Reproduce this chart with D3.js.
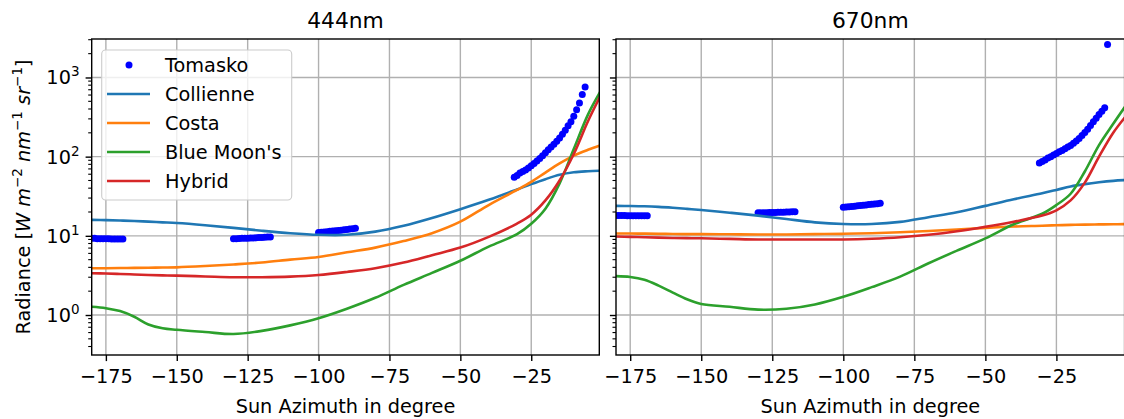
<!DOCTYPE html>
<html><head><meta charset="utf-8">
<script src="https://cdn.jsdelivr.net/npm/d3@7"></script>
<style>body{margin:0;background:#fff} svg{display:block} text{font-family:"DejaVu Sans",sans-serif;fill:#000}</style>
</head><body><svg id="c" width="1124" height="419"></svg>
<script>
// ---------- data ----------
const azimuth = [-180,-175,-170,-165,-160,-155,-150,-140,-130,-120,-110,-100,-90,-80,-70,-60,-50,-40,-30,-25,-20,-15,-10,-5,-1];

const collienne444 = [15.9,15.8,15.6,15.4,15.1,14.8,14.5,13.6,12.6,11.6,10.8,10.3,10.3,11.3,13.4,16.8,21.7,28.5,38.5,45,52,59,63.5,65.5,66.5];
const costa444     = [3.9,3.9,3.92,3.94,3.96,3.98,4.0,4.15,4.35,4.6,5.0,5.4,6.2,7.1,8.6,10.8,15.1,24.5,38,48,63,82,103,122,137];
const blueMoon444  = [1.27,1.22,1.12,0.95,0.76,0.68,0.65,0.61,0.575,0.63,0.74,0.91,1.2,1.65,2.4,3.4,4.85,7.3,10.5,14.2,22,46,125,340,630];
const hybrid444    = [3.37,3.34,3.3,3.25,3.2,3.17,3.14,3.07,3.0,3.0,3.05,3.2,3.5,3.9,4.6,5.7,7.1,9.7,14.3,18.5,28,50,108,280,550];

const collienne670 = [23.9,23.8,23.6,23.2,22.6,21.9,21.2,19.6,18.0,16.3,14.8,14.1,14.1,15.0,17.2,19.8,23.9,29,34.5,38,42,45,47.5,49.5,50.5];
const costa670     = [10.7,10.7,10.65,10.6,10.55,10.5,10.5,10.45,10.4,10.4,10.5,10.6,10.8,11.1,11.5,12.0,12.6,13.1,13.4,13.6,13.75,13.85,13.95,14.0,14.05];
const blueMoon670  = [3.1,3.02,2.78,2.35,1.92,1.58,1.38,1.27,1.17,1.2,1.36,1.7,2.25,3.05,4.5,6.5,9.3,14.0,19,24.5,34,65,140,260,420];
const hybrid670    = [9.8,9.7,9.6,9.5,9.4,9.35,9.3,9.15,9.0,9.0,9.0,9.0,9.2,9.6,10.3,11.4,13.0,15.1,18,21,28,47,100,200,310];

const tomaskoAz444 = [-180,-179,-178,-177,-176,-175,-174,-173,-172,-171,-170,-169,
  -130,-129,-128,-127,-126,-125,-124,-123,-122,-121,-120,-119,-118,-117,
  -100,-99,-98,-97,-96,-95,-94,-93,-92,-91,-90,-89,-88,-87,
  -31,-30,-29,-28,-27,-26,-25,-24,-23,-22,-21,-20,-19,-18,-17,-16,-15,-14,-13,-12,-11,-10,-9,-8,-7,-6];
const tomasko444 = [9.3,9.3,9.2,9.2,9.2,9.2,9.2,9.1,9.1,9.1,9.1,9.1,
  9.2,9.2,9.25,9.3,9.3,9.35,9.4,9.4,9.45,9.5,9.55,9.6,9.65,9.7,
  11.0,11.1,11.2,11.3,11.4,11.5,11.6,11.7,11.8,11.9,12.0,12.2,12.3,12.5,
  55,58,62,65,68,72,77,82,88,95,103,112,122,132,143,156,172,192,215,245,275,325,390,475,610,760];

const tomaskoAz670 = [-180,-179,-178,-177,-176,-175,-174,-173,-172,-171,-170,-169,
  -130,-129,-128,-127,-126,-125,-124,-123,-122,-121,-120,-119,-118,-117,
  -100,-99,-98,-97,-96,-95,-94,-93,-92,-91,-90,-89,-88,-87,
  -31,-30,-29,-28,-27,-26,-25,-24,-23,-22,-21,-20,-19,-18,-17,-16,-15,-14,-13,-12,-11,-10,-9,-8,-7];
const tomasko670 = [18.0,18.0,18.0,18.0,17.9,17.9,17.9,17.9,17.9,17.9,17.9,17.9,
  19.5,19.55,19.6,19.6,19.65,19.7,19.75,19.8,19.85,19.9,19.95,20.0,20.1,20.2,
  22.9,23.1,23.3,23.5,23.7,23.9,24.1,24.3,24.5,24.8,25.0,25.3,25.5,25.8,
  83,87,91,96,100,105,110,115,120,126,132,138,148,158,170,185,202,222,248,275,305,340,375,415,2600];

const xTicks = [-175,-150,-125,-100,-75,-50,-25];
const yTicks = [1,10,100,1000];
const yTickExp = ["0","1","2","3"];
const seriesNames = ["Tomasko","Collienne","Costa","Blue Moon's","Hybrid"];
const seriesColors = ["#0000ff","#1f77b4","#ff7f0e","#2ca02c","#d62728"];
const panelTitles = ["444nm","670nm"];
const xLabel = "Sun Azimuth in degree";

// ---------- layout ----------
const svg = d3.select("#c");
const TOP = 39, BOTTOM = 355;
const FS = 19.3, FSUP = 13.5, TFS = 21.8;
const y = d3.scaleLog().domain([0.3125, 3062]).range([BOTTOM, TOP]);

const panels = [
  {title: panelTitles[0], x0: 91.7, x1: 599.3, lines: [collienne444, costa444, blueMoon444, hybrid444], tAz: tomaskoAz444, tVal: tomasko444, labels: true},
  {title: panelTitles[1], x0: 616, x1: 1124.6, lines: [collienne670, costa670, blueMoon670, hybrid670], tAz: tomaskoAz670, tVal: tomasko670, labels: false}
];

panels.forEach((p, i) => {
  const x = d3.scaleLinear().domain([-180, -1]).range([p.x0, p.x1]);
  const g = svg.append("g");
  const clipId = "clip" + i;
  svg.append("defs").append("clipPath").attr("id", clipId)
    .append("rect").attr("x", p.x0).attr("y", TOP).attr("width", p.x1 - p.x0).attr("height", BOTTOM - TOP);

  // grid
  g.append("g").selectAll("line").data(xTicks).join("line")
    .attr("x1", d => x(d)).attr("x2", d => x(d)).attr("y1", TOP).attr("y2", BOTTOM)
    .attr("stroke", "#b0b0b0").attr("stroke-width", 1.4);
  g.append("g").selectAll("line").data(yTicks).join("line")
    .attr("x1", p.x0).attr("x2", p.x1).attr("y1", d => y(d)).attr("y2", d => y(d))
    .attr("stroke", "#b0b0b0").attr("stroke-width", 1.4);

  const plot = g.append("g").attr("clip-path", `url(#${clipId})`);
  // Tomasko dots
  plot.append("g").selectAll("circle").data(p.tAz.map((a, k) => [a, p.tVal[k]])).join("circle")
    .attr("cx", d => x(d[0])).attr("cy", d => y(d[1])).attr("r", 3.5).attr("fill", seriesColors[0]);
  // model lines
  const line = d3.line().x((d, k) => x(azimuth[k])).y(d => y(d)).curve(d3.curveCatmullRom.alpha(0.5));
  p.lines.forEach((vals, k) => {
    plot.append("path").datum(vals).attr("d", line).attr("fill", "none")
      .attr("stroke", seriesColors[k + 1]).attr("stroke-width", 2.6).attr("stroke-linecap", "square");
  });

  // x axis
  const xa = g.append("g").attr("transform", `translate(0,${BOTTOM})`)
    .call(d3.axisBottom(x).tickValues(xTicks).tickSize(6.1).tickPadding(8.5));
  xa.select(".domain").remove();
  xa.selectAll(".tick line").attr("stroke", "#000").attr("stroke-width", 1.4);
  xa.selectAll(".tick text").attr("font-size", FS).attr("font-family", "DejaVu Sans").attr("fill", "#000");

  // y axis (major + minor ticks)
  const ya = g.append("g").attr("transform", `translate(${p.x0},0)`)
    .call(d3.axisLeft(y).tickValues(yTicks).tickSize(6.1).tickFormat(() => ""));
  ya.select(".domain").remove();
  ya.selectAll(".tick line").attr("stroke", "#000").attr("stroke-width", 1.4);
  const minor = y.ticks().filter(v => !yTicks.some(t => Math.abs(t - v) < 1e-9));
  g.append("g").selectAll("line").data(minor).join("line")
    .attr("x1", p.x0 - 3.5).attr("x2", p.x0).attr("y1", d => y(d)).attr("y2", d => y(d))
    .attr("stroke", "#000").attr("stroke-width", 1.1);

  if (p.labels) {
    yTicks.forEach((v, k) => {
      const t = g.append("text").attr("x", p.x0 - 12.2).attr("y", y(v) + 7)
        .attr("text-anchor", "end").attr("font-size", FS);
      t.append("tspan").text("10");
      t.append("tspan").attr("font-size", FSUP).attr("dy", -8).text(yTickExp[k]);
    });
  }

  // spines
  g.append("rect").attr("x", p.x0).attr("y", TOP).attr("width", p.x1 - p.x0).attr("height", BOTTOM - TOP)
    .attr("fill", "none").attr("stroke", "#000").attr("stroke-width", 1.4);

  // title & x label
  g.append("text").attr("x", (p.x0 + p.x1) / 2).attr("y", 28)
    .attr("text-anchor", "middle").attr("font-size", TFS).text(p.title);
  g.append("text").attr("x", (p.x0 + p.x1) / 2).attr("y", 413)
    .attr("text-anchor", "middle").attr("font-size", FS).text(xLabel);
});

// y label
const yl = svg.append("text").attr("transform", `translate(30,${(TOP + BOTTOM) / 2}) rotate(-90)`)
  .attr("text-anchor", "middle").attr("font-size", FS);
yl.append("tspan").text("Radiance [");
yl.append("tspan").attr("font-style", "italic").text("W m");
yl.append("tspan").attr("font-size", FSUP).attr("dy", -8).text("−2");
yl.append("tspan").attr("font-style", "italic").attr("dy", 8).text(" nm");
yl.append("tspan").attr("font-size", FSUP).attr("dy", -8).text("−1");
yl.append("tspan").attr("font-style", "italic").attr("dy", 8).text(" sr");
yl.append("tspan").attr("font-size", FSUP).attr("dy", -8).text("−1");
yl.append("tspan").attr("dy", 8).text("]");

// legend
const lg = svg.append("g");
lg.append("rect").attr("x", 101.7).attr("y", 50).attr("width", 190).attr("height", 150).attr("rx", 4)
  .attr("fill", "#fff").attr("fill-opacity", 0.8).attr("stroke", "#cccccc").attr("stroke-width", 1.1);
seriesNames.forEach((name, k) => {
  const cy = 65 + k * 29;
  if (k === 0) {
    lg.append("circle").attr("cx", 129).attr("cy", cy).attr("r", 3.5).attr("fill", seriesColors[0]);
  } else {
    lg.append("line").attr("x1", 107).attr("x2", 150).attr("y1", cy).attr("y2", cy)
      .attr("stroke", seriesColors[k]).attr("stroke-width", 2.6);
  }
  lg.append("text").attr("x", 165).attr("y", cy + 7).attr("font-size", FS).text(name);
});
</script>
</body></html>
